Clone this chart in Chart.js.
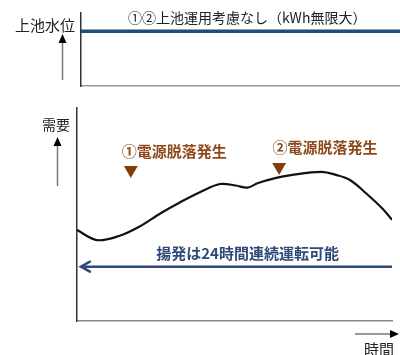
<!DOCTYPE html>
<html lang="ja">
<head>
<meta charset="utf-8">
<script src="https://cdn.jsdelivr.net/npm/chart.js@4.4.1/dist/chart.umd.min.js"></script>
<style>
  html, body { margin: 0; padding: 0; background: #fff; }
  #wrap { position: relative; width: 400px; height: 355px; overflow: hidden; }
  #levelChart { position: absolute; left: 0; top: 0; }
  #demandChart { position: absolute; left: 0; top: 95px; }
</style>
</head>
<body>
<div id="wrap">
  <canvas id="levelChart" width="400" height="95"></canvas>
  <canvas id="demandChart" width="400" height="260"></canvas>
</div>
<script>
const FONT = '"Noto Sans CJK JP", "Noto Sans", sans-serif';

// 上池水位（kWh無限大なので一定）
const levelTitle = '①②上池運用考慮なし（kWh無限大）';
const levelHours = [0, 24];
const levelValues = [0.75, 0.75];

// 需要カーブ（時刻, 需要）
const demandHours = [0, 1.5, 3.2, 4.7, 6.4, 7.9, 9.4, 10.9, 12.1, 13.0, 13.8, 15.1, 16.3, 18.6, 19.8, 20.8, 22.0, 23.3, 24];
const demandValues = [42.7, 38.0, 39.9, 44.1, 50.7, 55.9, 60.6, 64.3, 63.6, 62.6, 64.8, 67.1, 68.5, 70.0, 68.5, 66.2, 60.1, 52.6, 47.5];

// 電源脱落の発生時刻
const eventNames = ['①電源脱落発生', '②電源脱落発生'];
const eventHours = [4.1, 15.4];
const eventMarkValues = [70.9, 72.3];
const eventLabelHours = [3.4, 14.9];
const eventLabelValues = [79.8, 81.7];

// 揚発の運転範囲
const pumpText = '揚発は24時間連続運転可能';
const pumpHours = [0.3, 24];
const pumpValues = [25.5, 25.5];
const pumpTextHour = 13.0;
const pumpTextValue = 31.9;

// 軸ラベル
const levelAxisLabel = '上池水位';
const demandAxisLabel = '需要';
const timeAxisLabel = '時間';

function toPoints(xs, ys) {
    return xs.map((x, i) => ({ x: x, y: ys[i] }));
}

function plainScale(min, max, color) {
    return {
        type: 'linear',
        min: min,
        max: max,
        grid: { display: false, drawTicks: false },
        ticks: { display: false },
        border: { display: true, color: color, width: 1.5 }
    };
}

// 矢印（灰色の軸＋黒い矢じり）
function drawArrow(ctx, x1, y1, x2, y2) {
    const ang = Math.atan2(y2 - y1, x2 - x1);
    ctx.save();
    ctx.strokeStyle = '#777';
    ctx.lineWidth = 1.5;
    ctx.beginPath();
    ctx.moveTo(x1, y1);
    ctx.lineTo(x2 - 6 * Math.cos(ang), y2 - 6 * Math.sin(ang));
    ctx.stroke();
    ctx.fillStyle = '#000';
    ctx.translate(x2, y2);
    ctx.rotate(ang);
    ctx.beginPath();
    ctx.moveTo(0, 0);
    ctx.lineTo(-9, -4);
    ctx.lineTo(-9, 4);
    ctx.closePath();
    ctx.fill();
    ctx.restore();
}

const levelDecor = {
    id: 'levelDecor',
    afterDraw(chart) {
        const { ctx, chartArea, scales } = chart;
        ctx.save();
        ctx.fillStyle = '#222';
        ctx.textBaseline = 'middle';
        ctx.font = '14px ' + FONT;
        ctx.textAlign = 'center';
        ctx.fillText(levelTitle, scales.x.getPixelForValue(12.5), scales.y.getPixelForValue(0.93));
        ctx.font = '15px ' + FONT;
        ctx.textAlign = 'right';
        ctx.fillText(levelAxisLabel, chartArea.left - 6, 25);
        ctx.restore();
        drawArrow(ctx, 62.5, 80, 62.5, 34);
    }
};

const demandDecor = {
    id: 'demandDecor',
    afterDatasetsDraw(chart) {
        const { ctx, chartArea, scales } = chart;
        const x = scales.x, y = scales.y;
        ctx.save();
        ctx.textBaseline = 'middle';

        // 電源脱落ラベル
        ctx.font = 'bold 15px ' + FONT;
        ctx.fillStyle = '#8E4A1E';
        ctx.textAlign = 'left';
        eventNames.forEach((name, i) => {
            ctx.fillText(name, x.getPixelForValue(eventLabelHours[i]), y.getPixelForValue(eventLabelValues[i]));
        });

        // 揚発テキストと左向きの矢じり
        ctx.fillStyle = '#2F4A78';
        ctx.textAlign = 'center';
        ctx.fillText(pumpText, x.getPixelForValue(pumpTextHour), y.getPixelForValue(pumpTextValue));
        const head = chart.getDatasetMeta(2).data[0];
        ctx.strokeStyle = '#2F4A78';
        ctx.lineWidth = 2.5;
        ctx.lineCap = 'round';
        ctx.beginPath();
        ctx.moveTo(head.x + 9, head.y - 5);
        ctx.lineTo(head.x, head.y);
        ctx.lineTo(head.x + 9, head.y + 5);
        ctx.stroke();

        // 軸ラベル
        ctx.font = '14px ' + FONT;
        ctx.fillStyle = '#222';
        ctx.textAlign = 'right';
        ctx.fillText(demandAxisLabel, chartArea.left - 7, 30);
        ctx.font = '15px ' + FONT;
        ctx.textAlign = 'center';
        ctx.fillText(timeAxisLabel, 379, 254);
        ctx.restore();

        drawArrow(ctx, 57.5, 91, 57.5, 42);
        drawArrow(ctx, 355, 239, 399, 239);
    }
};

new Chart(document.getElementById('levelChart'), {
    type: 'line',
    data: {
        datasets: [{
            data: toPoints(levelHours, levelValues),
            borderColor: '#1F4E79',
            borderWidth: 3.5,
            pointRadius: 0
        }]
    },
    options: {
        responsive: false,
        animation: false,
        layout: { padding: { left: 81, top: 13, right: 0, bottom: 9 } },
        scales: {
            x: plainScale(0, 24, '#999'),
            y: plainScale(0, 1, '#333')
        },
        plugins: { legend: { display: false }, tooltip: { enabled: false } }
    },
    plugins: [levelDecor]
});

new Chart(document.getElementById('demandChart'), {
    type: 'line',
    data: {
        datasets: [
            {
                data: toPoints(demandHours, demandValues),
                borderColor: '#111',
                borderWidth: 2.2,
                pointRadius: 0,
                tension: 0.35
            },
            {
                data: toPoints(eventHours, eventMarkValues),
                showLine: false,
                pointStyle: 'triangle',
                rotation: 180,
                pointRadius: 8,
                pointBackgroundColor: '#843C0C',
                pointBorderColor: '#843C0C',
                pointBorderWidth: 0
            },
            {
                data: toPoints(pumpHours, pumpValues),
                borderColor: '#2F4A78',
                borderWidth: 2.5,
                pointRadius: 0
            }
        ]
    },
    options: {
        responsive: false,
        animation: false,
        layout: { padding: { left: 77, top: 13, right: 0, bottom: 34 } },
        scales: {
            x: plainScale(0, 24, '#888'),
            y: plainScale(0, 100, '#333')
        },
        plugins: { legend: { display: false }, tooltip: { enabled: false } }
    },
    plugins: [demandDecor]
});
</script>
</body>
</html>
